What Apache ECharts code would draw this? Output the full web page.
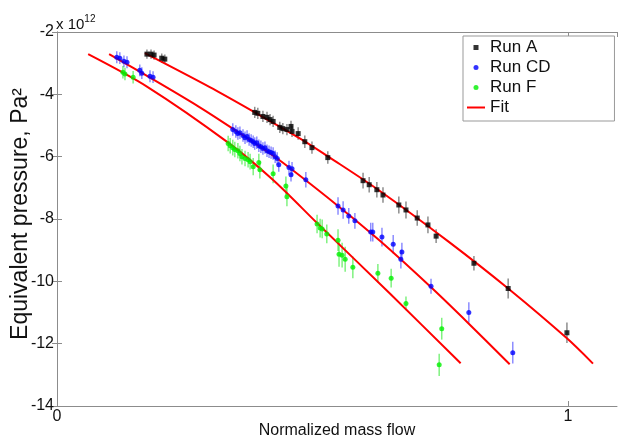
<!DOCTYPE html>
<html>
<head>
<meta charset="utf-8">
<script src="https://cdn.jsdelivr.net/npm/echarts@6/dist/echarts.min.js"></script>
<style>
  html, body { margin: 0; padding: 0; background: #fff; }
  #chart { width: 618px; height: 441px; }
</style>
</head>
<body>
<div id="chart"></div>
<script>
// points are [normalized mass flow, pressure (x 1e12 Pa^2), error half-height]
var runA = [
  [0.176, -2.71, 0.15], [0.184, -2.71, 0.15], [0.190, -2.74, 0.15], [0.205, -2.84, 0.15], [0.211, -2.87, 0.15],
  [0.387, -4.58, 0.18], [0.393, -4.61, 0.18], [0.403, -4.71, 0.18], [0.411, -4.74, 0.18], [0.417, -4.81, 0.18],
  [0.423, -4.87, 0.18], [0.436, -5.06, 0.18], [0.442, -5.10, 0.18], [0.450, -5.13, 0.18], [0.458, -5.03, 0.18],
  [0.460, -5.19, 0.18], [0.472, -5.26, 0.2], [0.485, -5.52, 0.2], [0.499, -5.71, 0.2], [0.530, -6.03, 0.2],
  [0.599, -6.77, 0.25], [0.611, -6.90, 0.25], [0.626, -7.06, 0.25], [0.638, -7.23, 0.25], [0.669, -7.55, 0.27],
  [0.683, -7.71, 0.27], [0.705, -7.97, 0.25], [0.726, -8.19, 0.27], [0.742, -8.55, 0.22], [0.816, -9.42, 0.23],
  [0.883, -10.23, 0.32], [0.998, -11.65, 0.33]
];
var runCD = [
  [0.117, -2.81, 0.19], [0.123, -2.84, 0.19], [0.131, -2.94, 0.19], [0.137, -2.97, 0.19], [0.162, -3.23, 0.19],
  [0.166, -3.32, 0.19], [0.182, -3.42, 0.19], [0.188, -3.45, 0.19],
  [0.344, -5.13, 0.2], [0.350, -5.19, 0.2], [0.354, -5.26, 0.2], [0.358, -5.23, 0.2], [0.364, -5.32, 0.2],
  [0.368, -5.39, 0.2], [0.372, -5.35, 0.2], [0.376, -5.45, 0.2], [0.380, -5.48, 0.2], [0.384, -5.52, 0.2],
  [0.387, -5.58, 0.2], [0.391, -5.55, 0.2], [0.395, -5.65, 0.2], [0.399, -5.68, 0.2], [0.403, -5.74, 0.2],
  [0.407, -5.71, 0.2], [0.411, -5.81, 0.2], [0.415, -5.84, 0.2], [0.419, -5.87, 0.2], [0.423, -5.90, 0.2],
  [0.427, -6.00, 0.2], [0.431, -6.06, 0.2],
  [0.434, -6.26, 0.22], [0.454, -6.35, 0.22], [0.460, -6.39, 0.22], [0.458, -6.58, 0.22], [0.487, -6.74, 0.25],
  [0.550, -7.58, 0.28], [0.560, -7.71, 0.28], [0.571, -7.90, 0.25], [0.583, -8.06, 0.25], [0.614, -8.42, 0.3],
  [0.618, -8.42, 0.3], [0.636, -8.58, 0.3], [0.658, -8.81, 0.3], [0.675, -9.06, 0.3], [0.673, -9.29, 0.3],
  [0.732, -10.16, 0.24], [0.806, -11.00, 0.33], [0.892, -12.29, 0.35]
];
var runF = [
  [0.129, -3.29, 0.2], [0.133, -3.35, 0.2], [0.149, -3.45, 0.2],
  [0.335, -5.58, 0.25], [0.339, -5.65, 0.25], [0.344, -5.71, 0.25], [0.348, -5.77, 0.25], [0.354, -5.81, 0.25],
  [0.358, -5.90, 0.25], [0.362, -6.00, 0.25], [0.368, -6.06, 0.25], [0.374, -6.10, 0.25], [0.378, -6.16, 0.25],
  [0.384, -6.32, 0.28], [0.395, -6.19, 0.28], [0.397, -6.42, 0.28], [0.423, -6.55, 0.3], [0.448, -6.94, 0.3],
  [0.450, -7.29, 0.3],
  [0.509, -8.16, 0.3], [0.515, -8.29, 0.3], [0.519, -8.32, 0.3], [0.528, -8.48, 0.3], [0.550, -8.68, 0.35],
  [0.552, -9.13, 0.4], [0.558, -9.16, 0.4], [0.564, -9.29, 0.4], [0.579, -9.55, 0.35], [0.628, -9.74, 0.3],
  [0.654, -9.90, 0.3], [0.683, -10.71, 0.22], [0.753, -11.52, 0.35], [0.748, -12.68, 0.36]
];
var fitA = [[0.172, -2.68], [0.299, -3.77], [0.384, -4.55], [0.476, -5.42], [0.534, -6.03], [0.632, -7.10],
  [0.765, -8.71], [0.883, -10.23], [0.998, -11.83], [1.049, -12.64]];
var fitCD = [[0.102, -2.71], [0.188, -3.52], [0.278, -4.40], [0.344, -5.10], [0.431, -6.06], [0.550, -7.58],
  [0.632, -8.70], [0.730, -10.16], [0.806, -11.36], [0.886, -12.66]];
var fitF = [[0.061, -2.71], [0.176, -3.75], [0.335, -5.55], [0.423, -6.75], [0.509, -8.13], [0.652, -10.40],
  [0.790, -12.63]];

var xTicks = [0, 1];
var yMin = -14, yMax = -2, yStep = 2;

var chart = echarts.init(document.getElementById('chart'));
var font = 'Liberation Sans, Arial, sans-serif';
var axisGray = '#8c8c8c';

function errorBars(data, color) {
  return {
    type: 'custom',
    data: data,
    silent: true,
    z: 1,
    encode: { x: 0, y: 1 },
    renderItem: function (params, api) {
      var x = api.value(0), y = api.value(1), e = api.value(2);
      var lo = api.coord([x, y - e]);
      var hi = api.coord([x, y + e]);
      return {
        type: 'line',
        shape: { x1: lo[0], y1: lo[1], x2: hi[0], y2: hi[1] },
        style: { stroke: color, lineWidth: 1.5 }
      };
    }
  };
}

function fitLine(data) {
  return {
    name: 'Fit', type: 'line', data: data, symbol: 'none', smooth: 0.3,
    lineStyle: { color: '#ff0000', width: 2 }, itemStyle: { color: '#ff0000' }, z: 3
  };
}

function baseX(pos, labels) {
  return {
    type: 'value', position: pos, min: 0, max: 1.096, interval: 1,
    axisLine: { show: true, lineStyle: { color: axisGray } },
    axisTick: { show: true, inside: true, length: 5, lineStyle: { color: axisGray } },
    axisLabel: {
      show: labels, margin: 3, fontSize: 16, color: '#111', fontFamily: font, showMaxLabel: false,
      formatter: function (v) { return xTicks.indexOf(v) >= 0 ? String(v) : ''; }
    },
    splitLine: { show: false }
  };
}

function baseY(pos, labels) {
  return {
    type: 'value', position: pos, min: yMin, max: yMax, interval: yStep,
    axisLine: { show: true, lineStyle: { color: axisGray } },
    axisTick: { show: true, inside: true, length: 5, lineStyle: { color: axisGray } },
    axisLabel: { show: labels, margin: 3, fontSize: 16, color: '#111', fontFamily: font },
    splitLine: { show: false }
  };
}

var xBottom = baseX('bottom', true);
xBottom.name = 'Normalized mass flow';
xBottom.nameLocation = 'middle';
xBottom.nameGap = 17;
xBottom.nameMoveOverlap = false;
xBottom.nameTextStyle = { fontSize: 16, color: '#111', fontFamily: font };

var yLeft = baseY('left', true);
yLeft.name = 'Equivalent pressure, Pa²';
yLeft.nameLocation = 'middle';
yLeft.nameGap = 25;
yLeft.nameMoveOverlap = false;
yLeft.nameTextStyle = { fontSize: 23, color: '#111', fontFamily: font, padding: [0, 0, 0, 10] };

var option = {
  backgroundColor: '#fff',
  animation: false,
  title: {
    text: '{a|x 10}{b|12}',
    left: 56, top: 14, padding: 0,
    textStyle: {
      fontWeight: 'normal',
      rich: {
        a: { fontSize: 15, lineHeight: 22, fontWeight: 'normal', color: '#111', fontFamily: font },
        b: { fontSize: 10, lineHeight: 10, verticalAlign: 'top', fontWeight: 'normal', color: '#111', fontFamily: font }
      }
    }
  },
  grid: { left: 57, right: 1, top: 32, bottom: 35, containLabel: false, outerBoundsMode: 'none' },
  legend: {
    orient: 'vertical', left: 463, top: 36,
    padding: [3, 64, 5, 4], itemGap: 3, itemWidth: 18, itemHeight: 5,
    backgroundColor: '#fff', borderColor: '#999', borderWidth: 1,
    textStyle: { fontSize: 17, color: '#111', fontFamily: font },
    data: [
      { name: 'Run A', icon: 'path://M0,0h1v1h-1z' },
      { name: 'Run CD', icon: 'circle' },
      { name: 'Run F', icon: 'circle' },
      { name: 'Fit', icon: 'path://M0,0h18v2h-18z' }
    ]
  },
  xAxis: [xBottom, baseX('top', false)],
  yAxis: [yLeft, baseY('right', false)],
  series: [
    errorBars(runA, 'rgba(0,0,0,0.45)'),
    errorBars(runCD, 'rgba(0,0,255,0.45)'),
    errorBars(runF, 'rgba(0,230,0,0.5)'),
    fitLine(fitA),
    fitLine(fitCD),
    fitLine(fitF),
    { name: 'Run A', type: 'scatter', data: runA, symbol: 'rect', symbolSize: 5, itemStyle: { color: '#000' }, z: 4 },
    { name: 'Run CD', type: 'scatter', data: runCD, symbol: 'circle', symbolSize: 5, itemStyle: { color: '#0000ff' }, z: 4 },
    { name: 'Run F', type: 'scatter', data: runF, symbol: 'circle', symbolSize: 5, itemStyle: { color: '#00f000' }, z: 4 }
  ]
};

chart.setOption(option);
</script>
</body>
</html>
